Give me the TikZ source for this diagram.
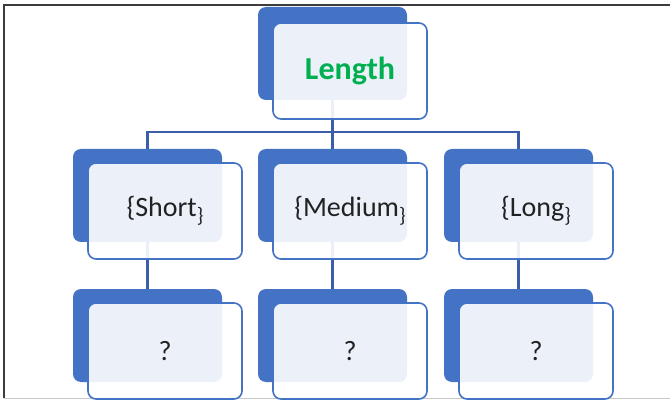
\documentclass[tikz,border=0pt]{standalone}
\usepackage{fontspec}
\setmainfont{Carlito}
\pgfdeclarelayer{background}
\pgfsetlayers{background,main}
\definecolor{boxblue}{HTML}{4472C4}
\definecolor{linkblue}{HTML}{3A5EA8}
\definecolor{leafgreen}{HTML}{00B050}
\definecolor{framegray}{HTML}{3C3C3C}
\definecolor{rulegray}{HTML}{C8C8C8}
\definecolor{inkgray}{HTML}{222222}

\tikzset{
  backcard/.style={fill=boxblue, rounded corners=8pt, minimum width=149pt,
    minimum height=93pt, inner sep=0pt},
  frontcard/.style={draw=boxblue, line width=1.6pt, fill=white, fill opacity=0.9,
    text opacity=1, rounded corners=8pt, minimum width=154pt, minimum height=96pt,
    inner sep=0pt, font=\fontsize{28}{32}\selectfont, text=inkgray},
  titlecard/.style={frontcard, font=\fontsize{32}{36}\selectfont\bfseries, text=leafgreen},
  conn/.style={draw=linkblue, line width=2.3pt},
}

% closing brace set small and low
\newcommand\lowbrace{\raisebox{-6pt}{\fontsize{21}{24}\selectfont\}}}

\begin{document}
\begin{tikzpicture}[x=1pt,y=-1pt]
\useasboundingbox (0,0) rectangle (670,401);

% root
\node[backcard]  (lenB)   at (332.5,53.5) {};
\node[titlecard] (len)    at (350,71)     {Length};

% categories
\node[backcard]  (shortB) at (147.5,195.5) {};
\node[frontcard] (short)  at (165,211)     {\{Short\lowbrace};
\node[backcard]  (medB)   at (332.5,195.5) {};
\node[frontcard] (med)    at (350,211)     {\{Medium\lowbrace};
\node[backcard]  (longB)  at (518.5,195.5) {};
\node[frontcard] (long)   at (536,211)     {\{Long\lowbrace};

% unknown outcomes
\node[backcard]  (qaB) at (147.5,335.5) {};
\node[frontcard] (qa)  at (165,351)     {?};
\node[backcard]  (qbB) at (332.5,335.5) {};
\node[frontcard] (qb)  at (350,351)     {?};
\node[backcard]  (qcB) at (518.5,335.5) {};
\node[frontcard] (qc)  at (536,351)     {?};

\coordinate (bus) at (0,132);

\begin{pgfonlayer}{background}
  \fill[white] (0,0) rectangle (670,401);
  % frame
  \draw[framegray, line width=1.2pt] (4,398) -- (4,5) -- (670,5);
  \draw[rulegray, line width=1pt] (4,398.5) -- (670,398.5);
  % tree connectors
  \draw[conn] (lenB.center) -- (medB.center);
  \draw[conn] (shortB.center) |- (lenB.center |- bus) -| (longB.center);
  \draw[conn] (shortB.center) -- (qaB.center);
  \draw[conn] (medB.center) -- (qbB.center);
  \draw[conn] (longB.center) -- (qcB.center);
\end{pgfonlayer}
\end{tikzpicture}
\end{document}
